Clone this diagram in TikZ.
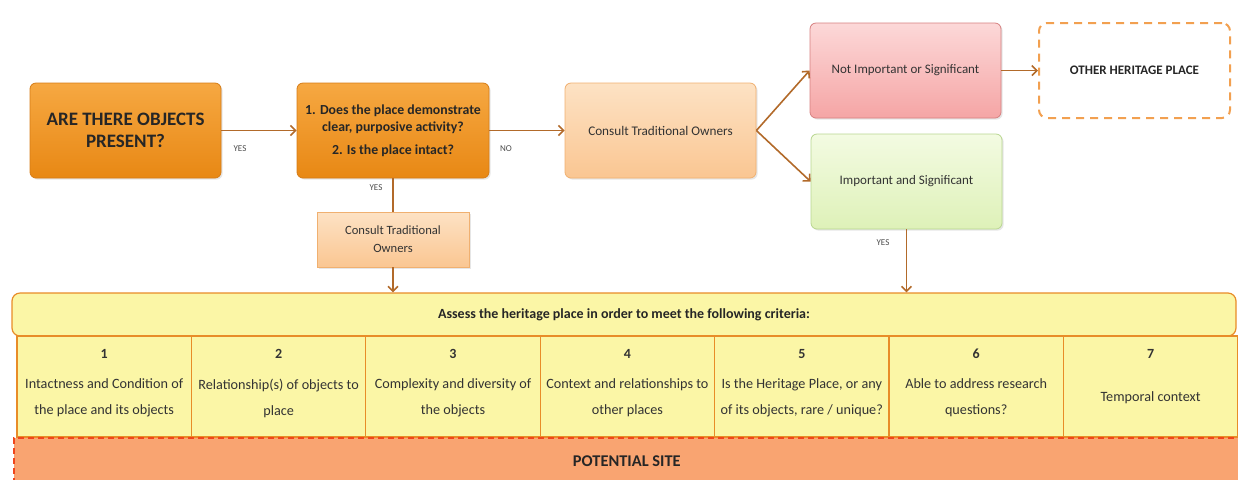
\documentclass[tikz,border=0pt]{standalone}
\usepackage{fontspec}
\setmainfont{Carlito}
\usepackage{tikz}
\usetikzlibrary{arrows.meta, positioning, calc, shadows}

\definecolor{flowbrown}{RGB}{178, 106, 42}
\definecolor{qtop}{RGB}{246, 168, 66}
\definecolor{qbot}{RGB}{232, 136, 20}
\definecolor{qedge}{RGB}{214, 124, 22}
\definecolor{ctop}{RGB}{253, 226, 196}
\definecolor{cbot}{RGB}{250, 198, 146}
\definecolor{cedge}{RGB}{240, 176, 112}
\definecolor{ntop}{RGB}{252, 216, 216}
\definecolor{nbot}{RGB}{245, 165, 165}
\definecolor{nedge}{RGB}{214, 128, 128}
\definecolor{itop}{RGB}{243, 251, 226}
\definecolor{ibot}{RGB}{222, 241, 184}
\definecolor{iedge}{RGB}{184, 214, 144}
\definecolor{critfill}{RGB}{251, 246, 166}
\definecolor{critedge}{RGB}{232, 140, 40}
\definecolor{sitefill}{RGB}{249, 164, 113}
\definecolor{siteedge}{RGB}{240, 70, 28}
\definecolor{dashorange}{RGB}{242, 160, 80}

\begin{document}
\begin{tikzpicture}[x=0.5pt, y=-0.5pt,
    flowbox/.style={rectangle, rounded corners=3pt, align=center, inner sep=2pt,
      minimum width=95.5pt, minimum height=47.5pt, line width=0.4pt,
      drop shadow={opacity=0.2, shadow xshift=0.8pt, shadow yshift=-0.8pt}},
    question/.style={flowbox, draw=qedge, top color=qtop, bottom color=qbot,
      text=black!85, font=\bfseries},
    consult/.style={flowbox, draw=cedge, top color=ctop, bottom color=cbot,
      text=black!80, font=\fontsize{6.6}{7}\selectfont},
    answer/.style={flowbox, text=black!80, font=\fontsize{6.5}{7}\selectfont},
    flow/.style={draw=flowbrown, line width=0.8pt},
    flowarrow/.style={flow, -{Straight Barb[length=2.5pt, width=5pt]}},
    yesno/.style={font=\fontsize{4.5}{5}\selectfont, text=black!70},
    crit/.style={rectangle, draw=critedge, fill=critfill, line width=0.6pt,
      minimum width=87.2pt, minimum height=50.5pt, inner sep=0pt},
    critnum/.style={font=\fontsize{7}{8}\selectfont\bfseries, text=black!80},
    crittext/.style={align=center, font=\fontsize{7.1}{13}\selectfont, text=black!80}
  ]
  \useasboundingbox (0,0) rectangle (1238,479);

  % === Top row of questions ===
  \node[question, font=\fontsize{9.5}{11}\selectfont\bfseries] (objects) at (125.5,130.5)
    {ARE THERE OBJECTS\\PRESENT?};
  \node[question, minimum width=96pt, font=\fontsize{6.9}{8.5}\selectfont\bfseries] (intact) at (393,130.5)
    {1. Does the place demonstrate\\clear, purposive activity?\\[3pt]2. Is the place intact?};
  \node[consult] (consultA) at (660.5,130.5) {Consult Traditional Owners};

  % === Outcomes ===
  \node[answer, draw=nedge, top color=ntop, bottom color=nbot] (notsig) at (905.5,70.5)
    {Not Important or Significant};
  \node[answer, draw=iedge, top color=itop, bottom color=ibot] (sig) at (906.5,181.5)
    {Important and Significant};
  \node[rectangle, rounded corners=4pt, draw=dashorange, line width=1pt,
    dash pattern=on 4pt off 3pt, fill=white, minimum width=95.5pt, minimum height=47.5pt,
    font=\fontsize{6.5}{7}\selectfont\bfseries, text=black!85] (other) at (1134.5,70.5)
    {OTHER HERITAGE PLACE};

  % Consult box below the questions
  \node[consult, rounded corners=0pt, minimum width=76pt, minimum height=27.5pt,
    font=\fontsize{6.3}{9}\selectfont] (consultB) at (393,239.5)
    {Consult Traditional\\Owners};

  % === Criteria ===
  \node[rectangle, rounded corners=4pt, draw=critedge, fill=critfill, line width=0.6pt,
    minimum width=612pt, minimum height=21.5pt,
    font=\fontsize{7}{8}\selectfont\bfseries, text=black!85] (assess) at (624,314.5)
    {Assess the heritage place in order to meet the following criteria:};

  \foreach \i/\txt in {1/{Intactness and Condition of\\the place and its objects},
                      2/{Relationship(s) of objects to\\place},
                      3/{Complexity and diversity of\\the objects},
                      4/{Context and relationships to\\other places},
                      5/{Is the Heritage Place, or any\\of its objects, rare / unique?},
                      6/{Able to address research\\questions?},
                      7/{Temporal context}} {
    \node[crit] (c\i) at ({17 + 174.4*(\i-0.5)},386.5) {};
    \node[critnum] (n\i) at ({17 + 174.4*(\i-0.5)},354) {\i};
    \node[crittext] (t\i) at ({17 + 174.4*(\i-0.5)},398) {\txt};
  }

  % Potential site bar
  \node[rectangle, draw=siteedge, fill=sitefill, line width=0.8pt, dash pattern=on 3pt off 2pt,
    minimum width=613pt, minimum height=24pt, anchor=north west,
    font=\fontsize{8.2}{9}\selectfont\bfseries, text=black!85] (site) at (13,437)
    {\raisebox{1pt}{POTENTIAL SITE}};

  % === Connectors ===
  \draw[flowarrow] (objects.east) -- (intact.west);
  \draw[flowarrow] (intact.east) -- (consultA.west);
  \draw[flowarrow] (consultA.east) -- (notsig.west);
  \draw[flowarrow] (consultA.east) -- (sig.west);
  \draw[flowarrow] (notsig.east) -- (other.west);
  \draw[flow] (intact.south) -- (consultB.north);
  \draw[flowarrow] (consultB.south) -- (consultB.south |- assess.north);
  \draw[flowarrow] (sig.south) -- (sig.south |- assess.north);

  % Labels
  \node[yesno] (yes1) at (240,149) {YES};
  \node[yesno] (no1) at (506,149) {NO};
  \node[yesno] (yes2) at (376,188) {YES};
  \node[yesno] (yes3) at (883,243) {YES};
\end{tikzpicture}
\end{document}
